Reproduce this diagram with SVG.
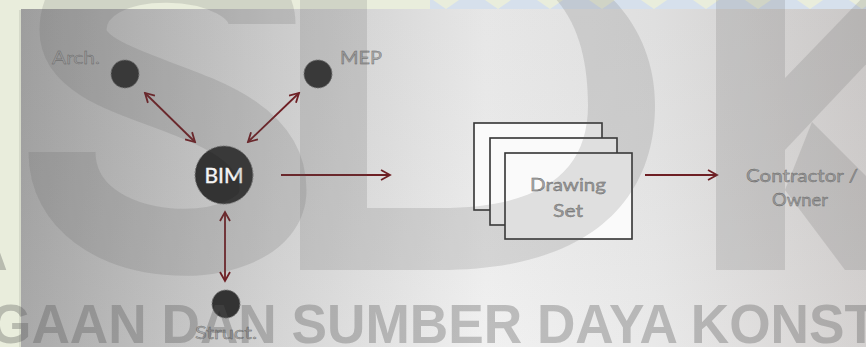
<svg xmlns="http://www.w3.org/2000/svg" width="866" height="347" viewBox="0 0 866 347">
<style>
.lbl{font-family:Lato,"Open Sans","Liberation Sans",sans-serif;font-weight:400;font-size:18px;fill:#a8a8a8;stroke:#626262;stroke-width:0.35px}
.dot{fill:#333;stroke:#777;stroke-width:1;stroke-dasharray:2 1}
.con{stroke:#6e1f24;stroke-width:1.8;fill:none}
.sheet{fill:#fafafa;stroke:#333;stroke-width:1.6}
.wm{fill:rgb(90,90,90);fill-opacity:0.17}
.wmt{font-family:"Liberation Sans",Arial,sans-serif;font-weight:bold;font-size:55px;fill:rgb(85,85,85);fill-opacity:0.33}
</style>
<defs>
<linearGradient id="bg" x1="21" y1="0" x2="866" y2="0" gradientUnits="userSpaceOnUse">
<stop offset="0" stop-color="#a4a4a4"/>
<stop offset="0.3" stop-color="#d2d2d2"/>
<stop offset="0.55" stop-color="#f0f0f0"/>
<stop offset="0.75" stop-color="#e8e8e8"/>
<stop offset="1" stop-color="#d2cfce"/>
</linearGradient>
<linearGradient id="vv" x1="0" y1="9" x2="0" y2="347" gradientUnits="userSpaceOnUse">
<stop offset="0" stop-color="#000" stop-opacity="0.04"/>
<stop offset="1" stop-color="#fff" stop-opacity="0.06"/>
</linearGradient>
<marker id="ah" markerWidth="12" markerHeight="12" refX="10" refY="6" orient="auto-start-reverse" markerUnits="userSpaceOnUse">
<path d="M1,1 L10,6 L1,11" fill="none" stroke="#6e1f24" stroke-width="1.8"/>
</marker>
</defs>
<rect x="0" y="0" width="866" height="347" fill="#e9eddc"/>
<g id="top-strip">
<rect x="430" y="0" width="436" height="9" fill="#d6e0ec"/>
<path d="M433,0 L459,0 L446,9 Z M485,0 L511,0 L498,9 Z M537,0 L563,0 L550,9 Z M589,0 L615,0 L602,9 Z M641,0 L667,0 L654,9 Z M693,0 L719,0 L706,9 Z M745,0 L771,0 L758,9 Z M797,0 L823,0 L810,9 Z M849,0 L875,0 L862,9 Z" fill="#e9eddc"/>
</g>
<rect x="19" y="10" width="847" height="337" fill="#000" fill-opacity="0.08"/>
<rect x="21" y="9" width="845" height="338" fill="url(#bg)"/>
<rect x="21" y="9" width="845" height="338" fill="url(#vv)"/>

<g id="connectors">
<line class="con" x1="145" y1="93" x2="195" y2="142" marker-start="url(#ah)" marker-end="url(#ah)"/>
<line class="con" x1="299" y1="93" x2="248" y2="142" marker-start="url(#ah)" marker-end="url(#ah)"/>
<line class="con" x1="225" y1="212" x2="225" y2="281" marker-start="url(#ah)" marker-end="url(#ah)"/>
<line class="con" x1="281" y1="175" x2="390" y2="175" marker-end="url(#ah)"/>
<line class="con" x1="645" y1="175" x2="717" y2="175" marker-end="url(#ah)"/>
</g>

<g id="node-arch">
<circle class="dot" cx="125" cy="74" r="14"/>
<text class="lbl" x="52" y="64" textLength="48" lengthAdjust="spacingAndGlyphs">Arch.</text>
</g>
<g id="node-mep">
<circle class="dot" cx="318" cy="74" r="14"/>
<text class="lbl" x="340" y="64" textLength="42" lengthAdjust="spacingAndGlyphs">MEP</text>
</g>
<g id="node-bim">
<circle class="dot" cx="224" cy="175" r="29"/>
<text x="224" y="183" text-anchor="middle" font-family="Lato,'Open Sans','Liberation Sans',sans-serif" font-size="21" fill="#f4f4f4" stroke="#f4f4f4" stroke-width="0.4">BIM</text>
</g>
<g id="node-struct">
<circle class="dot" cx="226" cy="304" r="14"/>
<text class="lbl" x="226" y="339" text-anchor="middle" textLength="62" lengthAdjust="spacingAndGlyphs">Struct.</text>
</g>
<g id="node-drawing-set">
<rect class="sheet" x="474" y="123" width="128" height="87"/>
<rect class="sheet" x="490" y="138" width="127" height="87"/>
<rect class="sheet" x="505" y="153" width="127" height="86"/>
<text class="lbl" x="568" y="191" text-anchor="middle" font-size="19" textLength="76" lengthAdjust="spacingAndGlyphs">Drawing</text>
<text class="lbl" x="568" y="217" text-anchor="middle" font-size="19" textLength="30" lengthAdjust="spacingAndGlyphs">Set</text>
</g>
<g id="node-contractor">
<text class="lbl" x="802" y="182" text-anchor="middle" font-size="17" textLength="112" lengthAdjust="spacingAndGlyphs">Contractor /</text>
<text class="lbl" x="800" y="206" text-anchor="middle" font-size="17" textLength="56" lengthAdjust="spacingAndGlyphs">Owner</text>
</g>

<g id="watermark">
<path d="M262,24 C262,-45 73,-55 73,30 C73,100 273,90 273,190 C273,265 62,265 62,152" fill="none" stroke="rgb(90,90,90)" stroke-opacity="0.17" stroke-width="67"/>
<path class="wm" fill-rule="evenodd" d="M300,-60 H440 C590,-60 655,20 655,105 C655,200 590,270 440,270 H300 Z M367,-40 H450 C560,-40 588,30 588,105 C588,170 545,208 440,208 H367 Z"/>
<rect class="wm" x="716" y="-20" width="69" height="290"/>
<path class="wm" d="M785,78 L868,-8 L870,60 L785,150 Z"/>
<path class="wm" d="M812,122 L870,180 L870,270 L845,270 L785,190 Z"/>
<text class="wmt" x="-10" y="343" textLength="887" lengthAdjust="spacingAndGlyphs">GAAN DAN SUMBER DAYA KONST</text>
<text class="wmt" x="-32" y="270">A</text>
</g>
</svg>
